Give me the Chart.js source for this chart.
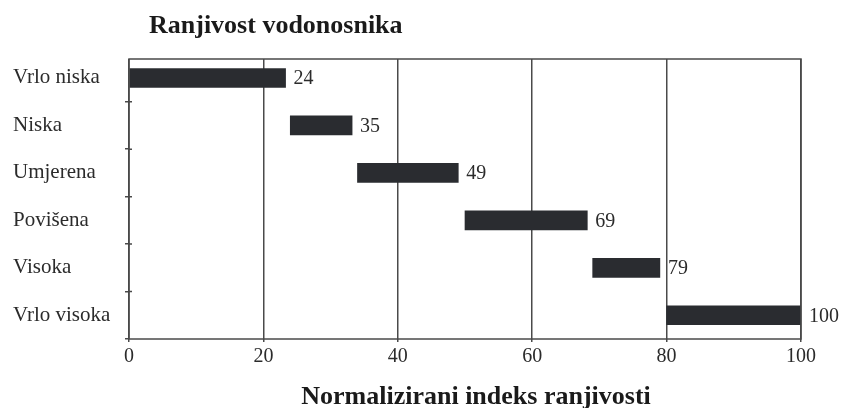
<!DOCTYPE html>
<html lang="hr">
<head>
    <meta charset="UTF-8">
    <title>Ranjivost vodonosnika</title>
    <script src="https://cdn.jsdelivr.net/npm/chart.js"></script>
    <style>
        body {
            margin: 0;
            background: #ffffff;
        }
        .chart-box {
            position: relative;
            width: 843px;
            height: 408px;
        }
    </style>
</head>
<body>
    <div class="chart-box">
        <canvas id="ranjivostChart"></canvas>
    </div>
    <script>
        // data
        const categories = ['Vrlo niska', 'Niska', 'Umjerena', 'Povišena', 'Visoka', 'Vrlo visoka'];
        const rangeStart = [0, 24, 34, 50, 69, 80];
        const rangeEnd = [23.3, 33.2, 49, 68.2, 79, 100];
        const endLabels = ['24', '35', '49', '69', '79', '100'];
        const xTicks = [0, 20, 40, 60, 80, 100];

        const chartTitle = 'Ranjivost vodonosnika';
        const xTitle = 'Normalizirani indeks ranjivosti';

        const serif = '"Liberation Serif", "DejaVu Serif", serif';
        const ink = '#2b2b2b';
        const lineColor = '#4a4a4a';

        // floating bars: [start, end], one row per category index
        const barData = categories.map((c, i) => ({ x: [rangeStart[i], rangeEnd[i]], y: i }));

        // frame, inner tick marks, titles and value labels next to bars
        const extras = {
            id: 'extras',
            afterDraw(chart) {
                const ctx = chart.ctx;
                const area = chart.chartArea;
                const yScale = chart.scales.y;
                ctx.save();
                ctx.strokeStyle = lineColor;
                ctx.lineWidth = 1.5;
                ctx.strokeRect(area.left, area.top, area.right - area.left, area.bottom - area.top);

                // the category ticks cross the axis, so add the inner half
                ctx.beginPath();
                for (let i = 0; i < categories.length - 1; i++) {
                    const y = yScale.getPixelForValue(i + 0.5);
                    ctx.moveTo(area.left, y);
                    ctx.lineTo(area.left + 3, y);
                }
                ctx.stroke();

                ctx.fillStyle = '#1a1a1a';
                ctx.font = 'bold 26px ' + serif;
                ctx.textAlign = 'left';
                ctx.textBaseline = 'alphabetic';
                ctx.fillText(chartTitle, area.left + 20, 33);

                ctx.textAlign = 'center';
                ctx.fillText(xTitle, (area.left + area.right) / 2 + 11, 404);

                ctx.fillStyle = ink;
                ctx.font = '20px ' + serif;
                ctx.textAlign = 'left';
                ctx.textBaseline = 'middle';
                const meta = chart.getDatasetMeta(0);
                meta.data.forEach((bar, i) => {
                    ctx.fillText(endLabels[i], bar.x + 8, bar.y + 1);
                });
                ctx.restore();
            }
        };

        const ctx = document.getElementById('ranjivostChart').getContext('2d');
        new Chart(ctx, {
            type: 'bar',
            data: {
                datasets: [{
                    data: barData,
                    backgroundColor: '#2a2c30',
                    borderWidth: 0,
                    barThickness: 19,
                    borderSkipped: false
                }]
            },
            options: {
                indexAxis: 'y',
                responsive: true,
                maintainAspectRatio: false,
                animation: false,
                layout: {
                    padding: { left: 13, right: 42, top: 59, bottom: 0 }
                },
                plugins: {
                    legend: { display: false },
                    title: { display: false },
                    tooltip: { enabled: false }
                },
                scales: {
                    x: {
                        type: 'linear',
                        min: 0,
                        max: 100,
                        afterBuildTicks(scale) {
                            scale.ticks = xTicks.map(v => ({ value: v }));
                        },
                        afterFit(scale) {
                            scale.height = 69;
                        },
                        grid: {
                            color: lineColor,
                            lineWidth: 1.5,
                            tickLength: 3
                        },
                        border: { display: false },
                        ticks: {
                            color: ink,
                            padding: 3,
                            font: { family: serif, size: 20 }
                        }
                    },
                    y: {
                        type: 'linear',
                        reverse: true,
                        offset: false,
                        min: -0.4,
                        max: 5.5,
                        afterBuildTicks(scale) {
                            scale.ticks = categories.map((c, i) => ({ value: i }));
                        },
                        afterFit(scale) {
                            scale.width = 116;
                        },
                        grid: {
                            offset: true,
                            drawOnChartArea: false,
                            color: lineColor,
                            lineWidth: 1.5,
                            tickLength: 4
                        },
                        border: { display: false },
                        ticks: {
                            color: ink,
                            crossAlign: 'far',
                            font: { family: serif, size: 21 },
                            callback: (v) => categories[v]
                        }
                    }
                }
            },
            plugins: [extras]
        });
    </script>
</body>
</html>
